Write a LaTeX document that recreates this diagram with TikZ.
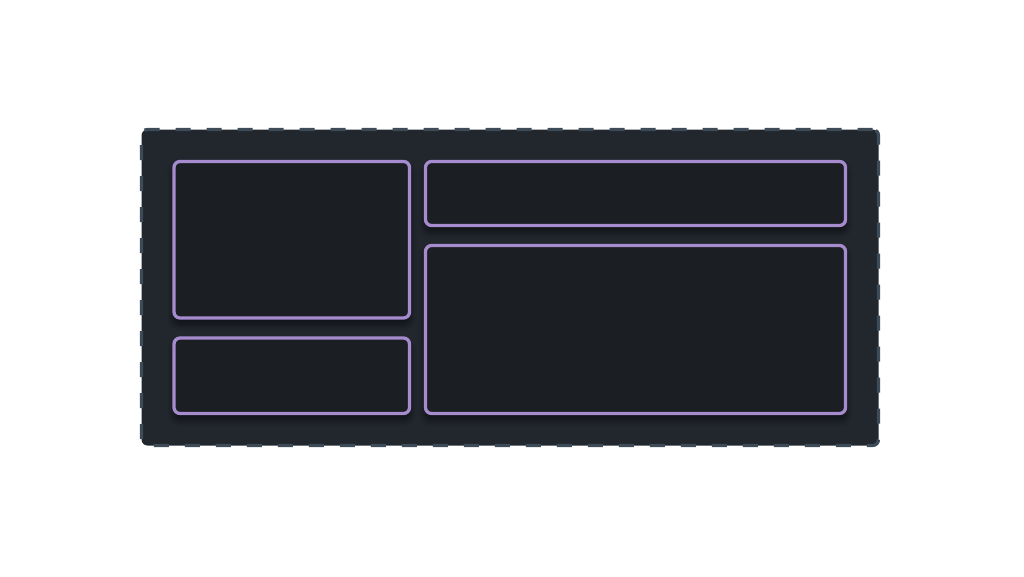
\documentclass[tikz,border=0pt]{standalone}
\usetikzlibrary{shadows.blur}
\definecolor{outerfill}{HTML}{22272E}
\definecolor{outerline}{HTML}{3D4B59}
\definecolor{innerfill}{HTML}{1B1E23}
\definecolor{purp}{HTML}{A78BCF}
\tikzset{
  panel/.style={draw=purp, line width=3.3pt, fill=innerfill, rounded corners=6pt,
    inner sep=0pt, outer sep=0pt,
    blur shadow={shadow blur steps=10, shadow xshift=0pt, shadow yshift=-6pt, shadow opacity=60, shadow blur radius=7pt}},
  frame/.style={draw=outerline, line width=3.2pt, fill=outerfill, rounded corners=6pt,
    dash pattern=on 15pt off 16pt, inner sep=0pt, outer sep=0pt}
}
\begin{document}
\begin{tikzpicture}[x=1pt,y=-1pt]
\useasboundingbox[fill=white] (0,0) rectangle (1024,576);
\node[frame, minimum width=737pt, minimum height=316pt] (outer) at (510,287.5) {};
\node[panel, minimum width=235.5pt, minimum height=156.5pt] (a) at (291.75,239.75) {};
\node[panel, minimum width=235.5pt, minimum height=75.5pt] (b) at (291.75,375.75) {};
\node[panel, minimum width=420pt, minimum height=64pt] (c) at (635.5,193.5) {};
\node[panel, minimum width=420pt, minimum height=168pt] (d) at (635.5,329.5) {};
\end{tikzpicture}
\end{document}
